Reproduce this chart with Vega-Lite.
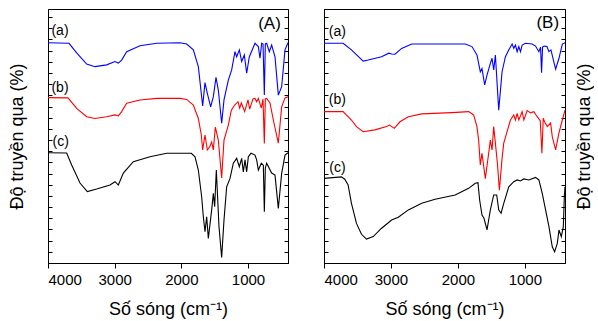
{
  "$schema": "https://vega.github.io/schema/vega-lite/v6.json",
  "padding": {"left": 8, "top": 8, "right": 0, "bottom": 0},
  "spacing": 30,
  "config": {
    "view": {"stroke": "black", "strokeWidth": 1},
    "font": "Liberation Sans",
    "axis": {"grid": false, "domainColor": "black", "tickColor": "black", "labelColor": "black", "titleColor": "black", "labelFont": "Liberation Sans", "titleFont": "Liberation Sans", "titleFontWeight": "normal", "labelFontSize": 15, "titleFontSize": 18}
  },
  "datasets": {
    "A": [
      {"s":"a","wn":4000,"t":86.7},{"s":"a","wn":3685,"t":86.5},{"s":"a","wn":3570,"t":82.7},{"s":"a","wn":3420,"t":78.3},{"s":"a","wn":3295,"t":77.3},{"s":"a","wn":3120,"t":78.0},{"s":"a","wn":2995,"t":79.3},{"s":"a","wn":2945,"t":78.7},{"s":"a","wn":2895,"t":79.9},{"s":"a","wn":2820,"t":83.2},{"s":"a","wn":2620,"t":85.5},{"s":"a","wn":2370,"t":86.5},{"s":"a","wn":2020,"t":86.7},{"s":"a","wn":1920,"t":86.2},{"s":"a","wn":1820,"t":83.9},{"s":"a","wn":1745,"t":77.3},{"s":"a","wn":1680,"t":61.8},{"s":"a","wn":1645,"t":71.0},{"s":"a","wn":1610,"t":66.8},{"s":"a","wn":1560,"t":61.5},{"s":"a","wn":1520,"t":65.5},{"s":"a","wn":1480,"t":73.1},{"s":"a","wn":1445,"t":68.1},{"s":"a","wn":1395,"t":55.0},{"s":"a","wn":1360,"t":64.2},{"s":"a","wn":1295,"t":72.0},{"s":"a","wn":1245,"t":76.0},{"s":"a","wn":1195,"t":83.2},{"s":"a","wn":1170,"t":81.2},{"s":"a","wn":1130,"t":83.9},{"s":"a","wn":1095,"t":79.3},{"s":"a","wn":1055,"t":81.9},{"s":"a","wn":1020,"t":74.7},{"s":"a","wn":980,"t":81.2},{"s":"a","wn":895,"t":86.5},{"s":"a","wn":845,"t":85.2},{"s":"a","wn":820,"t":80.6},{"s":"a","wn":795,"t":86.5},{"s":"a","wn":775,"t":86.3},{"s":"a","wn":755,"t":66.1},{"s":"a","wn":740,"t":86.3},{"s":"a","wn":720,"t":86.5},{"s":"a","wn":680,"t":83.2},{"s":"a","wn":645,"t":85.8},{"s":"a","wn":595,"t":81.2},{"s":"a","wn":545,"t":66.1},{"s":"a","wn":495,"t":69.4},{"s":"a","wn":445,"t":83.9},{"s":"a","wn":400,"t":86.7},
      {"s":"b","wn":4000,"t":65.1},{"s":"b","wn":3700,"t":65.0},{"s":"b","wn":3570,"t":60.9},{"s":"b","wn":3420,"t":57.6},{"s":"b","wn":3295,"t":56.9},{"s":"b","wn":3120,"t":57.6},{"s":"b","wn":2995,"t":58.3},{"s":"b","wn":2945,"t":57.9},{"s":"b","wn":2895,"t":59.6},{"s":"b","wn":2820,"t":62.9},{"s":"b","wn":2620,"t":64.2},{"s":"b","wn":2370,"t":64.8},{"s":"b","wn":2020,"t":64.8},{"s":"b","wn":1920,"t":64.4},{"s":"b","wn":1820,"t":62.2},{"s":"b","wn":1745,"t":56.9},{"s":"b","wn":1700,"t":50.4},{"s":"b","wn":1680,"t":44.5},{"s":"b","wn":1645,"t":50.4},{"s":"b","wn":1610,"t":44.5},{"s":"b","wn":1575,"t":45.7},{"s":"b","wn":1545,"t":47.6},{"s":"b","wn":1520,"t":44.5},{"s":"b","wn":1490,"t":53.5},{"s":"b","wn":1445,"t":48.4},{"s":"b","wn":1395,"t":33.5},{"s":"b","wn":1360,"t":48.4},{"s":"b","wn":1295,"t":54.3},{"s":"b","wn":1250,"t":60.2},{"s":"b","wn":1200,"t":62.2},{"s":"b","wn":1150,"t":63.5},{"s":"b","wn":1125,"t":61.0},{"s":"b","wn":1100,"t":63.0},{"s":"b","wn":1050,"t":59.6},{"s":"b","wn":1000,"t":64.2},{"s":"b","wn":975,"t":60.6},{"s":"b","wn":925,"t":64.6},{"s":"b","wn":895,"t":64.8},{"s":"b","wn":870,"t":63.5},{"s":"b","wn":845,"t":64.8},{"s":"b","wn":800,"t":61.0},{"s":"b","wn":775,"t":64.5},{"s":"b","wn":755,"t":47.1},{"s":"b","wn":740,"t":64.6},{"s":"b","wn":720,"t":64.8},{"s":"b","wn":670,"t":63.0},{"s":"b","wn":620,"t":56.3},{"s":"b","wn":545,"t":47.2},{"s":"b","wn":495,"t":61.5},{"s":"b","wn":445,"t":65.0},{"s":"b","wn":400,"t":65.4},
      {"s":"c","wn":4000,"t":43.4},{"s":"c","wn":3720,"t":43.3},{"s":"c","wn":3645,"t":38.6},{"s":"c","wn":3520,"t":31.5},{"s":"c","wn":3410,"t":28.1},{"s":"c","wn":3270,"t":29.1},{"s":"c","wn":3070,"t":30.7},{"s":"c","wn":2995,"t":32.0},{"s":"c","wn":2945,"t":30.7},{"s":"c","wn":2870,"t":35.4},{"s":"c","wn":2720,"t":39.9},{"s":"c","wn":2470,"t":41.8},{"s":"c","wn":2220,"t":43.2},{"s":"c","wn":1995,"t":43.2},{"s":"c","wn":1850,"t":43.2},{"s":"c","wn":1795,"t":41.8},{"s":"c","wn":1745,"t":36.6},{"s":"c","wn":1695,"t":26.1},{"s":"c","wn":1670,"t":18.2},{"s":"c","wn":1645,"t":12.3},{"s":"c","wn":1620,"t":18.2},{"s":"c","wn":1595,"t":9.7},{"s":"c","wn":1545,"t":20.9},{"s":"c","wn":1520,"t":27.4},{"s":"c","wn":1500,"t":22.2},{"s":"c","wn":1475,"t":36.6},{"s":"c","wn":1435,"t":14.3},{"s":"c","wn":1395,"t":2.2},{"s":"c","wn":1360,"t":16.9},{"s":"c","wn":1320,"t":30.0},{"s":"c","wn":1270,"t":33.3},{"s":"c","wn":1220,"t":39.3},{"s":"c","wn":1170,"t":41.2},{"s":"c","wn":1130,"t":37.9},{"s":"c","wn":1095,"t":41.2},{"s":"c","wn":1070,"t":35.9},{"s":"c","wn":1045,"t":40.6},{"s":"c","wn":1020,"t":35.9},{"s":"c","wn":995,"t":41.8},{"s":"c","wn":955,"t":43.2},{"s":"c","wn":895,"t":42.5},{"s":"c","wn":870,"t":40.6},{"s":"c","wn":845,"t":36.6},{"s":"c","wn":800,"t":39.3},{"s":"c","wn":770,"t":38.5},{"s":"c","wn":755,"t":20.2},{"s":"c","wn":740,"t":37.4},{"s":"c","wn":720,"t":39.3},{"s":"c","wn":645,"t":35.4},{"s":"c","wn":595,"t":34.6},{"s":"c","wn":545,"t":21.5},{"s":"c","wn":495,"t":35.3},{"s":"c","wn":445,"t":42.5},{"s":"c","wn":400,"t":43.4}
    ],
    "B": [
      {"s":"a","wn":4000,"t":86.5},{"s":"a","wn":3715,"t":86.5},{"s":"a","wn":3590,"t":83.9},{"s":"a","wn":3415,"t":79.5},{"s":"a","wn":3340,"t":79.9},{"s":"a","wn":3140,"t":81.2},{"s":"a","wn":3030,"t":82.6},{"s":"a","wn":2990,"t":82.3},{"s":"a","wn":2940,"t":82.2},{"s":"a","wn":2840,"t":84.5},{"s":"a","wn":2690,"t":86.2},{"s":"a","wn":2300,"t":86.2},{"s":"a","wn":1890,"t":86.2},{"s":"a","wn":1790,"t":85.2},{"s":"a","wn":1715,"t":81.9},{"s":"a","wn":1665,"t":75.3},{"s":"a","wn":1640,"t":76.6},{"s":"a","wn":1600,"t":70.1},{"s":"a","wn":1565,"t":74.0},{"s":"a","wn":1515,"t":78.6},{"s":"a","wn":1490,"t":80.6},{"s":"a","wn":1465,"t":76.0},{"s":"a","wn":1440,"t":81.9},{"s":"a","wn":1390,"t":60.2},{"s":"a","wn":1340,"t":75.3},{"s":"a","wn":1290,"t":81.2},{"s":"a","wn":1240,"t":83.9},{"s":"a","wn":1190,"t":86.2},{"s":"a","wn":1165,"t":84.5},{"s":"a","wn":1140,"t":85.8},{"s":"a","wn":1115,"t":83.2},{"s":"a","wn":1090,"t":85.2},{"s":"a","wn":1065,"t":83.2},{"s":"a","wn":1040,"t":85.8},{"s":"a","wn":990,"t":86.5},{"s":"a","wn":890,"t":86.2},{"s":"a","wn":840,"t":85.4},{"s":"a","wn":790,"t":83.2},{"s":"a","wn":765,"t":85.0},{"s":"a","wn":750,"t":74.9},{"s":"a","wn":735,"t":85.0},{"s":"a","wn":710,"t":85.4},{"s":"a","wn":670,"t":85.2},{"s":"a","wn":640,"t":83.2},{"s":"a","wn":610,"t":83.9},{"s":"a","wn":540,"t":76.3},{"s":"a","wn":490,"t":80.6},{"s":"a","wn":440,"t":86.2},{"s":"a","wn":400,"t":86.7},
      {"s":"b","wn":4000,"t":59.6},{"s":"b","wn":3715,"t":59.6},{"s":"b","wn":3590,"t":56.3},{"s":"b","wn":3515,"t":53.7},{"s":"b","wn":3415,"t":51.7},{"s":"b","wn":3240,"t":52.4},{"s":"b","wn":3065,"t":53.7},{"s":"b","wn":3020,"t":54.3},{"s":"b","wn":2950,"t":53.0},{"s":"b","wn":2865,"t":55.6},{"s":"b","wn":2740,"t":57.6},{"s":"b","wn":2540,"t":58.7},{"s":"b","wn":2090,"t":59.2},{"s":"b","wn":1840,"t":59.6},{"s":"b","wn":1765,"t":58.3},{"s":"b","wn":1715,"t":53.7},{"s":"b","wn":1690,"t":48.4},{"s":"b","wn":1665,"t":38.6},{"s":"b","wn":1640,"t":43.2},{"s":"b","wn":1590,"t":33.2},{"s":"b","wn":1540,"t":43.2},{"s":"b","wn":1515,"t":48.4},{"s":"b","wn":1490,"t":44.5},{"s":"b","wn":1465,"t":53.7},{"s":"b","wn":1440,"t":47.2},{"s":"b","wn":1410,"t":39.4},{"s":"b","wn":1380,"t":28.7},{"s":"b","wn":1340,"t":41.3},{"s":"b","wn":1315,"t":47.2},{"s":"b","wn":1265,"t":51.7},{"s":"b","wn":1215,"t":56.3},{"s":"b","wn":1165,"t":58.3},{"s":"b","wn":1140,"t":56.3},{"s":"b","wn":1115,"t":58.9},{"s":"b","wn":1090,"t":56.3},{"s":"b","wn":1040,"t":59.6},{"s":"b","wn":1015,"t":56.3},{"s":"b","wn":965,"t":60.0},{"s":"b","wn":915,"t":59.1},{"s":"b","wn":865,"t":59.6},{"s":"b","wn":815,"t":57.6},{"s":"b","wn":770,"t":56.0},{"s":"b","wn":745,"t":43.2},{"s":"b","wn":725,"t":57.0},{"s":"b","wn":705,"t":55.6},{"s":"b","wn":665,"t":53.7},{"s":"b","wn":615,"t":55.1},{"s":"b","wn":590,"t":49.7},{"s":"b","wn":540,"t":44.5},{"s":"b","wn":490,"t":51.2},{"s":"b","wn":440,"t":56.3},{"s":"b","wn":400,"t":60.2},
      {"s":"c","wn":4000,"t":33.3},{"s":"c","wn":3740,"t":33.9},{"s":"c","wn":3690,"t":33.0},{"s":"c","wn":3640,"t":30.7},{"s":"c","wn":3590,"t":23.5},{"s":"c","wn":3515,"t":15.6},{"s":"c","wn":3440,"t":11.3},{"s":"c","wn":3365,"t":9.4},{"s":"c","wn":3265,"t":10.4},{"s":"c","wn":3140,"t":13.7},{"s":"c","wn":2990,"t":16.9},{"s":"c","wn":2890,"t":18.0},{"s":"c","wn":2740,"t":20.9},{"s":"c","wn":2540,"t":23.5},{"s":"c","wn":2340,"t":25.1},{"s":"c","wn":2040,"t":26.8},{"s":"c","wn":1840,"t":29.4},{"s":"c","wn":1740,"t":31.4},{"s":"c","wn":1700,"t":31.6},{"s":"c","wn":1675,"t":24.8},{"s":"c","wn":1640,"t":18.9},{"s":"c","wn":1610,"t":17.6},{"s":"c","wn":1565,"t":13.0},{"s":"c","wn":1515,"t":20.9},{"s":"c","wn":1465,"t":26.8},{"s":"c","wn":1420,"t":26.8},{"s":"c","wn":1390,"t":20.9},{"s":"c","wn":1355,"t":19.6},{"s":"c","wn":1315,"t":23.5},{"s":"c","wn":1240,"t":30.0},{"s":"c","wn":1165,"t":32.0},{"s":"c","wn":1115,"t":32.7},{"s":"c","wn":1065,"t":32.3},{"s":"c","wn":1015,"t":33.1},{"s":"c","wn":940,"t":32.7},{"s":"c","wn":840,"t":33.7},{"s":"c","wn":790,"t":32.7},{"s":"c","wn":740,"t":27.4},{"s":"c","wn":690,"t":20.9},{"s":"c","wn":640,"t":14.3},{"s":"c","wn":590,"t":6.4},{"s":"c","wn":555,"t":4.4},{"s":"c","wn":515,"t":7.7},{"s":"c","wn":490,"t":13.0},{"s":"c","wn":455,"t":10.4},{"s":"c","wn":425,"t":14.3},{"s":"c","wn":410,"t":26.1},{"s":"c","wn":400,"t":30.0}
    ]
  },
  "hconcat": [
    {
      "width": 240,
      "height": 254,
      "layer": [
        {
          "data": {"name": "A"},
          "mark": {"type": "line", "strokeWidth": 1.1},
          "encoding": {
            "x": {"field": "wn", "type": "quantitative", "scale": {"domain": [4000, 400], "nice": false, "zero": false},
              "axis": {"title": "Số sóng (cm⁻¹)", "values": [4000, 3500, 3000, 2500, 2000, 1500, 1000, 500], "format": "d", "labelExpr": "datum.value % 1000 === 0 ? datum.label : ''", "tickSize": {"condition": {"test": "datum.value % 1000 === 0", "value": 5}, "value": 3}, "labelPadding": 4, "titlePadding": 13}},
            "y": {"field": "t", "type": "quantitative", "scale": {"domain": [0, 100], "nice": false, "zero": false},
              "axis": {"orient": "left", "title": "Độ truyền qua (%)", "labels": false, "tickSize": -4, "titlePadding": 21, "values": [0,4.4,8.8,13.2,17.6,22,26.4,30.8,35.2,39.6,44,48.4,52.8,57.2,61.6,66,70.4,74.8,79.2,83.6,88,92.4,96.8]}},
            "color": {"field": "s", "type": "nominal", "scale": {"domain": ["a", "b", "c"], "range": ["#0000ff", "#ff0000", "#000000"]}, "legend": null}
          }
        },
        {
          "data": {"name": "A"},
          "mark": {"type": "point", "opacity": 0},
          "encoding": {
            "y": {"field": "t", "type": "quantitative", "axis": {"orient": "right", "title": null, "labels": false, "tickSize": -4, "values": [0,4.4,8.8,13.2,17.6,22,26.4,30.8,35.2,39.6,44,48.4,52.8,57.2,61.6,66,70.4,74.8,79.2,83.6,88,92.4,96.8]}}
          }
        },
        {
          "data": {"values": [{"lab": "(a)", "wn": 3820, "t": 91.3}, {"lab": "(b)", "wn": 3820, "t": 68.9}, {"lab": "(c)", "wn": 3810, "t": 47.5}]},
          "mark": {"type": "text", "fontSize": 14, "align": "center", "baseline": "middle", "font": "Liberation Sans"},
          "encoding": {
            "x": {"field": "wn", "type": "quantitative"},
            "y": {"field": "t", "type": "quantitative", "axis": null},
            "text": {"field": "lab"}
          }
        },
        {
          "data": {"values": [{"lab": "(A)", "wn": 677, "t": 93.9}]},
          "mark": {"type": "text", "fontSize": 17, "align": "center", "baseline": "middle", "font": "Liberation Sans"},
          "encoding": {
            "x": {"field": "wn", "type": "quantitative"},
            "y": {"field": "t", "type": "quantitative", "axis": null},
            "text": {"field": "lab"}
          }
        }
      ],
      "resolve": {"axis": {"y": "independent"}}
    },
    {
      "width": 241,
      "height": 254,
      "layer": [
        {
          "data": {"name": "B"},
          "mark": {"type": "line", "strokeWidth": 1.1},
          "encoding": {
            "x": {"field": "wn", "type": "quantitative", "scale": {"domain": [4000, 400], "nice": false, "zero": false},
              "axis": {"title": "Số sóng (cm⁻¹)", "values": [4000, 3500, 3000, 2500, 2000, 1500, 1000, 500], "format": "d", "labelExpr": "datum.value % 1000 === 0 ? datum.label : ''", "tickSize": {"condition": {"test": "datum.value % 1000 === 0", "value": 5}, "value": 3}, "labelPadding": 4, "titlePadding": 13}},
            "y": {"field": "t", "type": "quantitative", "scale": {"domain": [0, 100], "nice": false, "zero": false},
              "axis": {"orient": "left", "title": null, "labels": false, "tickSize": -4, "values": [0,4.4,8.8,13.2,17.6,22,26.4,30.8,35.2,39.6,44,48.4,52.8,57.2,61.6,66,70.4,74.8,79.2,83.6,88,92.4,96.8]}},
            "color": {"field": "s", "type": "nominal", "scale": {"domain": ["a", "b", "c"], "range": ["#0000ff", "#ff0000", "#000000"]}, "legend": null}
          }
        },
        {
          "data": {"name": "B"},
          "mark": {"type": "point", "opacity": 0},
          "encoding": {
            "y": {"field": "t", "type": "quantitative", "axis": {"orient": "right", "title": "Độ truyền qua (%)", "titleAngle": 270, "labels": false, "tickSize": -4, "titlePadding": 28, "values": [0,4.4,8.8,13.2,17.6,22,26.4,30.8,35.2,39.6,44,48.4,52.8,57.2,61.6,66,70.4,74.8,79.2,83.6,88,92.4,96.8]}}
          }
        },
        {
          "data": {"values": [{"lab": "(a)", "wn": 3800, "t": 90.9}, {"lab": "(b)", "wn": 3800, "t": 64.2}, {"lab": "(c)", "wn": 3800, "t": 37.4}]},
          "mark": {"type": "text", "fontSize": 14, "align": "center", "baseline": "middle", "font": "Liberation Sans"},
          "encoding": {
            "x": {"field": "wn", "type": "quantitative"},
            "y": {"field": "t", "type": "quantitative", "axis": null},
            "text": {"field": "lab"}
          }
        },
        {
          "data": {"values": [{"lab": "(B)", "wn": 658, "t": 94.3}]},
          "mark": {"type": "text", "fontSize": 17, "align": "center", "baseline": "middle", "font": "Liberation Sans"},
          "encoding": {
            "x": {"field": "wn", "type": "quantitative"},
            "y": {"field": "t", "type": "quantitative", "axis": null},
            "text": {"field": "lab"}
          }
        }
      ],
      "resolve": {"axis": {"y": "independent"}}
    }
  ]
}
